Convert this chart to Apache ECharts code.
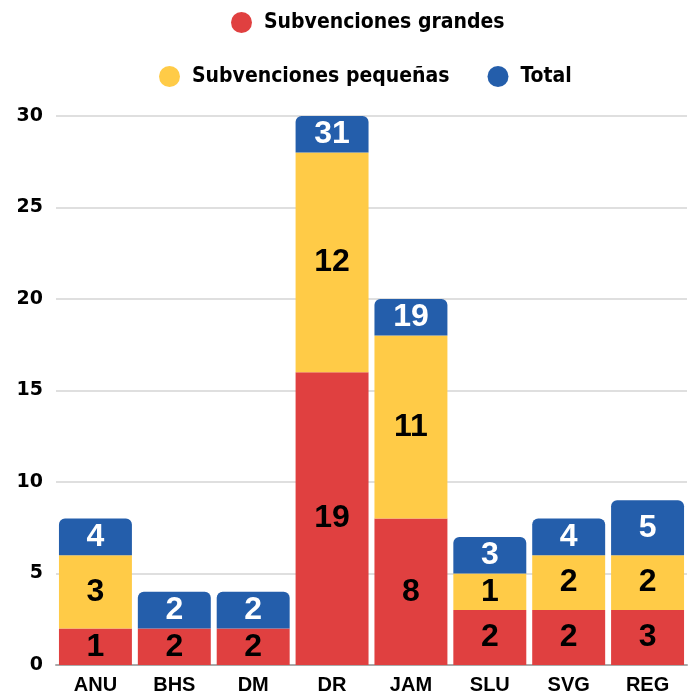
<!DOCTYPE html>
<html>
<head>
<meta charset="utf-8">
<script src="https://cdn.jsdelivr.net/npm/echarts@6/dist/echarts.min.js"></script>
<style>html,body{margin:0;padding:0;background:#fff}#c{width:697px;height:699px}</style>
</head>
<body>
<div id="c"></div>
<script>
const categories = ['ANU','BHS','DM','DR','JAM','SLU','SVG','REG'];
// bar segment heights as drawn
const grandesHeights = [2,2,2,16,8,3,3,3];
const pequenasHeights = [4,0,0,12,10,2,3,3];
const totalHeights = [2,2,2,2,2,2,2,3];
// printed labels
const grandesLabels = [1,2,2,19,8,2,2,3];
const pequenasLabels = [3,null,null,12,11,1,2,2];
const totalLabels = [4,2,2,31,19,3,4,5];
const yTicks = [0,5,10,15,20,25,30];

const RED = '#E04040', YEL = '#FFCB47', BLU = '#245EAB';
const legendFont = "'Liberation Sans Narrow','DejaVu Sans Condensed',sans-serif";
const numFont = "'Liberation Sans',Arial,sans-serif";

function lbl(arr, color){
  return {
    show: true, position: 'inside', color: color,
    fontFamily: numFont, fontWeight: 'bold', fontSize: 32,
    formatter: p => (arr[p.dataIndex] == null ? '' : String(arr[p.dataIndex]))
  };
}

const legendText = {fontFamily:legendFont, fontWeight:'bold', fontSize:21, color:'#000', padding:[0,0,0,7]};
const chart = echarts.init(document.getElementById('c'), null, {renderer:'canvas'});
chart.setOption({
  animation: false,
  legend: [
    {data:['Subvenciones grandes'], top: 7, left: 226, icon:'circle', itemWidth:21, itemHeight:21, itemGap: 40,
     textStyle: legendText},
    {data:['Subvenciones pequeñas','Total'], top: 61, left: 154, icon:'circle', itemWidth:21, itemHeight:21, itemGap: 38,
     textStyle: legendText}
  ],
  grid: {left: 56, right: 10, top: 116, bottom: 34, containLabel: false},
  xAxis: {
    type: 'category', data: categories,
    axisLine: {show:true, lineStyle:{color:'#aaaaaa', width:2}},
    axisTick: {show:false},
    axisLabel: {color:'#000', fontFamily:numFont, fontWeight:'bold', fontSize:20, margin:10}
  },
  yAxis: {
    type: 'value', min: yTicks[0], max: yTicks[yTicks.length-1], interval: 5,
    axisLine: {show:false}, axisTick:{show:false},
    splitLine: {lineStyle:{color:'#d4d4d4', width:1.5}},
    axisLabel: {color:'#000', fontFamily:"'DejaVu Sans',sans-serif", fontWeight:'bold', fontSize:19, margin:13}
  },
  series: [
    {name:'Subvenciones grandes', type:'bar', stack:'a', data: grandesHeights, barCategoryGap:'7.5%',
     itemStyle:{color:RED}, label: lbl(grandesLabels,'#000')},
    {name:'Subvenciones pequeñas', type:'bar', stack:'a', data: pequenasHeights.map(v => v === 0 ? null : v),
     itemStyle:{color:YEL}, label: lbl(pequenasLabels,'#000')},
    {name:'Total', type:'bar', stack:'a', data: totalHeights,
     itemStyle:{color:BLU, borderRadius:[6,6,0,0]}, label: lbl(totalLabels,'#fff')}
  ]
});
</script>
</body>
</html>
